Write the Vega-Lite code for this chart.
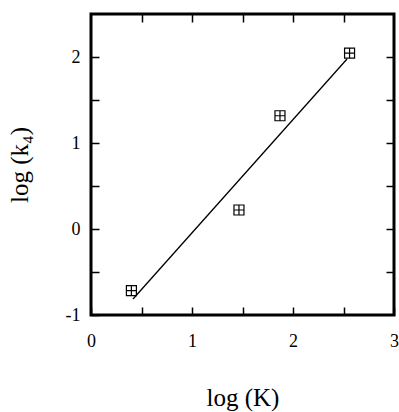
{
  "$schema": "https://vega.github.io/schema/vega-lite/v6.json",
  "autosize": "none",
  "width": 303,
  "height": 301,
  "padding": {"left": 91, "top": 14, "right": 5, "bottom": 97},
  "background": "white",
  "config": {
    "view": {"stroke": "black", "strokeWidth": 3},
    "font": "Liberation Serif",
    "axis": {
      "domain": false,
      "grid": false,
      "tickColor": "black",
      "tickWidth": 1.5,
      "tickSize": -8,
      "labelFont": "Liberation Serif",
      "labelFontSize": 18,
      "labelColor": "black",
      "titleFont": "Liberation Serif",
      "titleFontSize": 25,
      "titleFontWeight": "normal",
      "titleColor": "black"
    }
  },
  "datasets": {
    "points": [
      {"logK": 0.40, "logk4": -0.717},
      {"logK": 1.465, "logk4": 0.221},
      {"logK": 1.871, "logk4": 1.317},
      {"logK": 2.56, "logk4": 2.045}
    ],
    "fit": [
      {"logK": 0.416, "logk4": -0.814},
      {"logK": 2.535, "logk4": 1.977}
    ]
  },
  "resolve": {"axis": {"x": "independent", "y": "independent"}},
  "layer": [
    {
      "data": {"name": "fit"},
      "mark": {"type": "line", "color": "black", "strokeWidth": 1.3},
      "encoding": {
        "x": {
          "field": "logK", "type": "quantitative",
          "scale": {"domain": [0, 3], "nice": false, "zero": false},
          "axis": {
            "title": "log (K)",
            "titlePadding": 35,
            "values": [0, 0.5, 1, 1.5, 2, 2.5, 3],
            "labelExpr": "datum.value % 1 === 0 ? '' + datum.value : ''",
            "labelPadding": 25,
            "labelFlush": false
          }
        },
        "y": {
          "field": "logk4", "type": "quantitative",
          "scale": {"domain": [-1, 2.5], "nice": false, "zero": false},
          "axis": {
            "title": "log (k₄)",
            "titlePadding": 33,
            "values": [-1, -0.5, 0, 0.5, 1, 1.5, 2],
            "labelExpr": "datum.value % 1 === 0 ? '' + datum.value : ''",
            "labelPadding": 19,
            "labelFlush": false
          }
        }
      }
    },
    {
      "data": {"name": "points"},
      "mark": {
        "type": "point",
        "shape": "M-1,-1H1V1H-1Z M0,-1V1 M-1,0H1",
        "filled": false,
        "size": 100,
        "stroke": "black",
        "strokeWidth": 1.2,
        "opacity": 1
      },
      "encoding": {
        "x": {
          "field": "logK", "type": "quantitative",
          "scale": {"domain": [0, 3], "nice": false, "zero": false},
          "axis": {
            "orient": "top",
            "title": null,
            "labels": false,
            "values": [0.5, 1, 1.5, 2, 2.5]
          }
        },
        "y": {
          "field": "logk4", "type": "quantitative",
          "scale": {"domain": [-1, 2.5], "nice": false, "zero": false},
          "axis": {
            "orient": "right",
            "title": null,
            "labels": false,
            "values": [-0.5, 0, 0.5, 1, 1.5, 2]
          }
        }
      }
    }
  ]
}
